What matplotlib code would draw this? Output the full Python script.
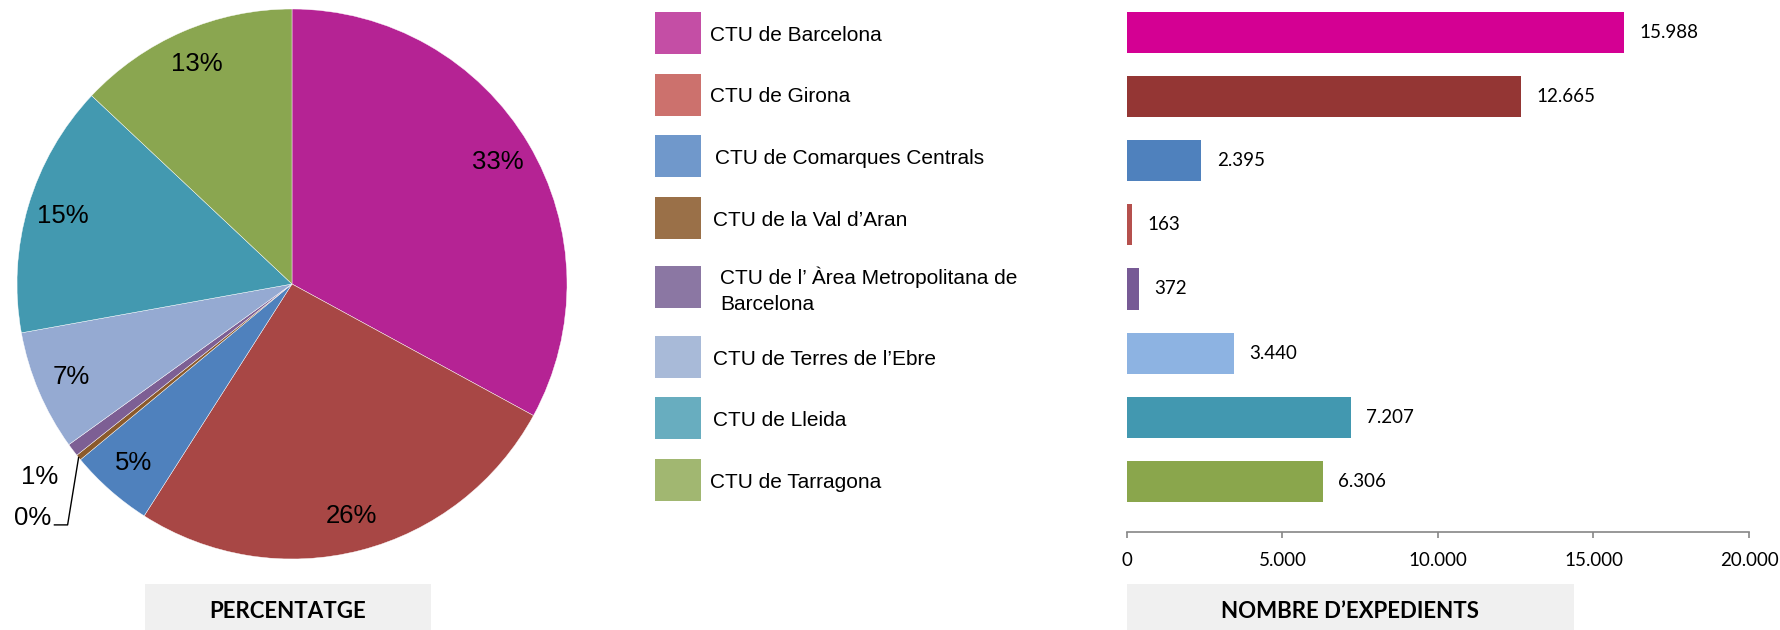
#!/usr/bin/env python3

import numpy as np
import matplotlib
matplotlib.use('Agg')
from matplotlib import pyplot as plt
from matplotlib.patches import Rectangle

plt.rcParams['font.family'] = 'Liberation Sans'

# data
CTU_NAMES = [
    "CTU de Barcelona",
    "CTU de Girona",
    "CTU de Comarques Centrals",
    "CTU de la Val d\u2019Aran",
    "CTU de l\u2019 \u00c0rea Metropolitana de\nBarcelona",
    "CTU de Terres de l\u2019Ebre",
    "CTU de Lleida",
    "CTU de Tarragona",
]
EXPEDIENTS = [15988, 12665, 2395, 163, 372, 3440, 7207, 6306]
X_TICKS = [0, 5000, 10000, 15000, 20000]

PIE_CLRS = ['#B52394', '#A84745', '#4F81BD', '#8B5A2B',
            '#7D5F94', '#95AAD2', '#4399B0', '#8AA650']
LEG_CLRS = ['#C44EA5', '#CC716D', '#7098CB', '#9A7048',
            '#8B77A3', '#A8BAD8', '#68ADBF', '#A1B771']
BAR_CLRS = ['#D40093', '#943634', '#4F81BD', '#B5504D',
            '#775A95', '#8DB3E2', '#4298B0', '#8AA64C']

W, H = 1781, 630


def px_box(l, t, r, b):
    return [l / W, 1 - b / H, (r - l) / W, (b - t) / H]


def fx(x):
    return x / W


def fy(y):
    return 1 - y / H


def fmt_num(v):
    return f"{v:,}".replace(',', '.')


fig = plt.figure(figsize=(W / 100, H / 100), dpi=100)

# ---- pie
ax_pie = fig.add_axes(px_box(17, 9, 567, 559))
wedges, _, autotexts = ax_pie.pie(
    EXPEDIENTS,
    colors=PIE_CLRS,
    startangle=90,
    counterclock=False,
    autopct='%1.0f%%',
    pctdistance=0.87,
    wedgeprops=dict(edgecolor='white', linewidth=0.3),
    textprops=dict(fontsize=18.5, color='black'),
)
ax_pie.set_xlim(-1, 1)
ax_pie.set_ylim(-1, 1)


def mid_angle(w):
    return np.deg2rad((w.theta1 + w.theta2) / 2)


# 1% label just outside its wedge
t = mid_angle(wedges[4])
autotexts[4].set_position((1.15 * np.cos(t), 1.16 * np.sin(t)))

# 0% label with a leader line
t = mid_angle(wedges[3])
ex, ey = np.cos(t), np.sin(t)
cy = -0.876
cx = ex - 0.04
lx = ex - 0.088
ax_pie.plot([lx, cx, ex], [cy, cy, ey], color='black', lw=1.0, clip_on=False)
autotexts[3].set_position((lx - 0.012, cy))
autotexts[3].set_ha('right')
autotexts[3].set_va('baseline')

# ---- legend (drawn by hand: the two-line entry gets extra room)
LEG_X, LEG_TOP, LEG_PITCH, EXTRA = 655, 12, 61.5, 8
PATCH_W, PATCH_H = 46, 42
TEXT_DX = [9, 9, 14, 12, 19, 12, 12, 9]
LINE_H = 26
for i, (name, clr) in enumerate(zip(CTU_NAMES, LEG_CLRS)):
    lines = name.split('\n')
    top = LEG_TOP + LEG_PITCH * i + EXTRA * (i >= 4) + EXTRA * (i >= 5)
    fig.add_artist(Rectangle((fx(LEG_X), fy(top + PATCH_H)),
                             PATCH_W / W, PATCH_H / H,
                             transform=fig.transFigure,
                             facecolor=clr, edgecolor='none'))
    yc = top + PATCH_H / 2
    base0 = yc + 8 - LINE_H * (len(lines) - 1) / 2 + 1.5 * (len(lines) > 1)
    for k, line in enumerate(lines):
        fig.text(fx(LEG_X + PATCH_W + TEXT_DX[i]), fy(base0 + LINE_H * k),
                 line, ha='left', va='baseline', fontsize=15)

# ---- bars
ax_bar = fig.add_axes(px_box(1127, 0, 1749, 532))
y = np.arange(len(EXPEDIENTS))
bars = ax_bar.barh(y, EXPEDIENTS, height=0.64, color=BAR_CLRS)
ax_bar.bar_label(bars, labels=[fmt_num(v) for v in EXPEDIENTS],
                 padding=11, fontsize=13.5, family='Lato')
ax_bar.set_xlim(0, 20000)
ax_bar.set_ylim(7.79, -0.507)
ax_bar.set_xticks(X_TICKS)
ax_bar.set_xticklabels([fmt_num(v) for v in X_TICKS], family='Lato')
ax_bar.set_yticks([])
ax_bar.spines['top'].set_visible(False)
ax_bar.spines['right'].set_visible(False)
ax_bar.spines['left'].set_visible(False)
ax_bar.spines['bottom'].set_color('#868686')
ax_bar.spines['bottom'].set_linewidth(1.2)
ax_bar.tick_params(axis='x', direction='out', length=4.5, width=1.2,
                   color='#868686', labelsize=13.5, pad=10)

# ---- caption boxes
for l, r, label in [(145, 431, 'PERCENTATGE'),
                    (1127, 1574, 'NOMBRE D\u2019EXPEDIENTS')]:
    fig.add_artist(Rectangle((fx(l), 0), (r - l) / W, (H - 584) / H,
                             transform=fig.transFigure,
                             facecolor='#F0F0F0', edgecolor='none'))
    fig.text(fx((l + r) / 2), fy(611), label,
             ha='center', va='center', fontsize=16, fontweight='bold',
             family='Lato')

plt.savefig("out.png", dpi=100)
